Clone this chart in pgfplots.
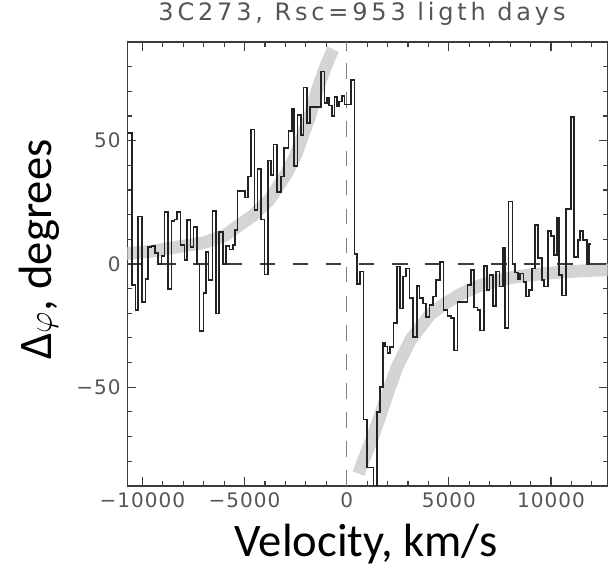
\documentclass[border=0pt]{standalone}
\usepackage{fontspec}
\usepackage{pgfplots}
\pgfplotsset{compat=1.18}
\setmainfont{DejaVu Sans}
\newfontfamily\ticksfont[LetterSpace=5]{DejaVu Sans}
\newfontfamily\titlefont[LetterSpace=16]{DejaVu Sans}
\newfontfamily\calib{Carlito}
\definecolor{band}{RGB}{212,212,212}
\definecolor{txtgray}{RGB}{85,85,85}
\definecolor{axgray}{RGB}{60,60,60}
\definecolor{histc}{RGB}{35,35,35}
\begin{document}
\begin{tikzpicture}
\begin{axis}[
 scale only axis, width=360.3pt, height=333pt,
 xmin=-10738, xmax=12773, ymin=-90, ymax=90,
 scaled x ticks=false, scaled y ticks=false,
 axis line style={axgray, line width=0.9pt},
 xtick={-10000,-5000,0,5000,10000},
 xticklabels={−10000,−5000,0,5000,10000},
 minor xtick={-10000,-9000,...,12000},
 ytick={-50,0,50}, yticklabels={−50,0,50},
 minor ytick={-80,-70,...,80},
 tick style={axgray, line width=0.8pt},
 major tick length=6.75pt, minor tick length=3.4pt,
 tick label style={font=\ticksfont\fontsize{15}{18}\selectfont, text=txtgray},
 xticklabel style={yshift=-1.5pt},
 yticklabel style={xshift=-1.5pt},
 every axis title shift=0pt,
 title={3C273, Rsc=953 ligth days},
 title style={font=\titlefont\fontsize{18}{21}\selectfont, text=txtgray, at={(axis description cs:0.4886,1.048)}, anchor=base},
 xlabel={Velocity, km/s},
 xlabel style={font=\calib\fontsize{35}{42}\selectfont, at={(axis description cs:0.4969,-0.16)}, anchor=base},
 ylabel={Δ$\varphi$, degrees},
 ylabel style={font=\calib\fontsize{35}{42}\selectfont, at={(axis description cs:-0.1574,0.5327)}, anchor=base},
]
% model curve (grey band)
\addplot[band, line width=9.5pt, line join=round] coordinates {
(-11000,4.0) (-9500,5.2) (-8386,6.8) (-7000,8.6) (-5942,11.6) (-5355,15.2)
(-4558,19.8) (-3741,26.5) (-2924,37) (-2500,44) (-2112,53) (-1785,60.5)
(-1457,70) (-1296,74) (-1050,79.5) (-807,84.5) (-660,87)
};
\addplot[band, line width=9.5pt, line join=round] coordinates {
(577,-85) (900,-78) (1231,-71) (1638,-61.5) (2000,-52.5) (2455,-42)
(3150,-30.5) (4083,-20.5) (4734,-16.5) (5550,-12.3) (6500,-8.8) (7345,-6.8)
(8157,-5.4) (8973,-4.5) (10196,-3.5) (11500,-2.8) (13000,-2.3)
};
% zero lines
\addplot[axgray, line width=0.9pt, dash pattern=on 11.8pt off 13pt] coordinates {(-10738,0) (12773,0)};
\addplot[gray, line width=0.9pt, dash pattern=on 11.8pt off 10pt] coordinates {(0,-90) (0,90)};
% histogram
\addplot[const plot, histc, line width=1.25pt] table {
x y
-10738 53
-10504 -8.6
-10342 -18.8
-10210 19.3
-10015 -15.4
-9853 -6.2
-9721 6.9
-9560 7.3
-9399 4.5
-9232 0
-9071 3.2
-8910 21.2
-8743 -10.1
-8582 17.4
-8421 18
-8303 21
-8142 7.6
-7932 1.5
-7814 17.7
-7653 6.9
-7491 15
-7325 0
-7213 -27.2
-7002 -11.8
-6885 4.9
-6758 -6.6
-6562 21.4
-6396 -20.1
-6235 13
-6054 0
-5892 7.2
-5731 5.8
-5565 7.8
-5452 13.9
-5340 29.7
-4963 27
-4831 35.5
-4670 54.5
-4509 22
-4362 38.6
-4181 18
-4020 -4.3
-3853 41.9
-3707 36
-3579 48.4
-3413 29.2
-3218 35.5
-3056 47
-2846 54
-2680 63
-2567 39.6
-2406 60.5
-2240 52.2
-2112 71.6
-1946 57.2
-1785 63.6
-1247 78.1
-1086 65.3
-968 67.3
-856 64.3
-724 60.1
-597 67.6
-479 63.9
-367 65.9
-235 68
-108 64.6
220 74.7
381 4
499 -8
660 -3
822 -63
988 -82.5
1311 -95
1477 -60
1638 -50
1770 -32
1883 -33.5
1995 -36
2127 -33.8
2289 -24
2455 -1
2616 -18
2748 -5.1
2910 -1.8
3071 -13.9
3237 -29.5
3433 -8.9
3560 -13.9
3726 -16
3888 -21.6
4049 -16.6
4215 -13.2
4377 -6.5
4572 0.9
4734 -18.6
4929 -21
5095 -22
5257 -35.1
5418 -15.5
5907 -8.5
6073 -2.4
6235 -17.6
6396 -18.6
6528 -27
6724 -0.8
6856 -10.5
6983 -4.5
7149 -17
7311 -3.1
7472 -9.2
7638 6.4
7751 -26
7912 25.3
8108 0
8240 -3.5
8372 -6.2
8484 -3.8
8646 -7.2
8763 -13.2
8924 -10.5
9056 -1.8
9218 15.8
9379 2.3
9545 -6.5
9672 -9.2
9839 13.5
10000 11.4
10161 3.6
10279 18.9
10391 -4.5
10553 -12.8
10719 22.2
10978 59.5
11139 2.7
11306 9.7
11418 13.5
11580 9.7
11746 0
11858 8.1
11956 8.1
};
\coordinate (sw) at (rel axis cs:0,0);
\coordinate (ne) at (rel axis cs:1,1);
\end{axis}
\path (sw) ++(-95.5pt,-65.25pt) coordinate (bl);
\path (ne) ++(5.5pt,31.5pt) coordinate (tr);
\pgfresetboundingbox
\path (bl) rectangle (tr);
\end{tikzpicture}
\end{document}
